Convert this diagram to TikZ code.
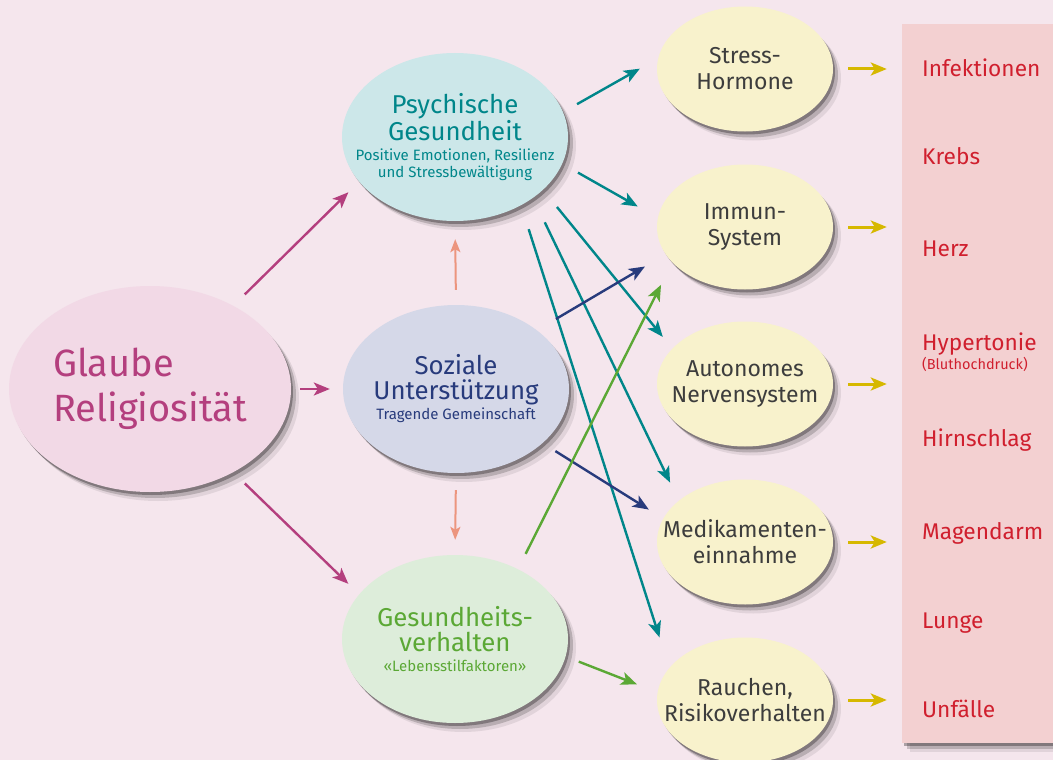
\documentclass[tikz,border=0pt]{standalone}
\usepackage{fontspec}
\setmainfont{Fira Sans}
\usepackage{tikz}
\usetikzlibrary{arrows.meta,shapes.geometric,shadows}
\definecolor{religBack}{HTML}{F5E6ED}
\definecolor{religPanelFill}{HTML}{F3D0D1}
\definecolor{religPink}{HTML}{F2D9E6}
\definecolor{religMagenta}{HTML}{B43F7E}
\definecolor{religAqua}{HTML}{CCE7E9}
\definecolor{religTeal}{HTML}{00868A}
\definecolor{religLilac}{HTML}{D5D8E8}
\definecolor{religNavy}{HTML}{283B7C}
\definecolor{religMint}{HTML}{DDEDDA}
\definecolor{religGreen}{HTML}{5BA835}
\definecolor{religCream}{HTML}{F8F2CC}
\definecolor{religInk}{HTML}{3D3D3D}
\definecolor{religRed}{HTML}{D01F2E}
\definecolor{religSalmon}{HTML}{EC957E}
\definecolor{religGold}{HTML}{D6B800}
\newcommand{\religSub}{\fontsize{15}{17}\selectfont}
\tikzset{
  religShadow/.style={
    drop shadow={shadow xshift=2pt,shadow yshift=-3pt,opacity=.3,fill=black},
    drop shadow={shadow xshift=5pt,shadow yshift=-6pt,opacity=.18,fill=black},
    drop shadow={shadow xshift=8pt,shadow yshift=-9pt,opacity=.08,fill=black}
  },
  religBubble/.style={
    ellipse,
    inner sep=0pt,
    religShadow,
    minimum width=226pt,
    minimum height=168pt
  },
  religBubbleText/.style={
    align=center,
    font=\fontsize{25.8}{25}\selectfont
  },
  religEffect/.style={
    religBubble,
    fill=religCream,
    minimum width=176pt,
    minimum height=125pt
  },
  religEffectText/.style={
    align=center,
    text=religInk,
    font=\fontsize{23}{26}\selectfont
  },
  religLabel/.style={
    anchor=base west,
    inner sep=0pt,
    text=religRed,
    font=\fontsize{22.7}{26}\selectfont
  },
  religArrow/.style={
    -{Stealth[length=16pt,width=13pt,inset=4pt]},
    line width=2.4pt
  },
  religThinArrow/.style={
    -{Stealth[length=13pt,width=10pt,inset=3pt]},
    line width=2pt
  }
}
\begin{document}
\begin{tikzpicture}[x=1pt, y=-1pt]
\useasboundingbox (0,0) rectangle (1053,760);
\clip (0,0) rectangle (1053,760);
\fill[religBack] (0,0) rectangle (1053,760);

% right panel with outcomes
\node[fill=religPanelFill, religShadow, inner sep=0pt,
      minimum width=173pt, minimum height=719pt] (panel) at (988.5,383.5) {};
\node[religLabel] (infekt) at (922,77) {Infektionen};
\node[religLabel] (krebs) at (922,164) {Krebs};
\node[religLabel] (herz) at (922,256) {Herz};
\node[religLabel] (hyper) at (922,350) {Hypertonie};
\node[religLabel, font=\fontsize{14.5}{16}\selectfont] (bluthoch) at (922,369) {(Bluthochdruck)};
\node[religLabel] (hirn) at (922,446) {Hirnschlag};
\node[religLabel] (magen) at (922,539) {Magendarm};
\node[religLabel] (lunge) at (922,628) {Lunge};
\node[religLabel] (unfall) at (922,717) {Unfälle};

% left and middle bubbles
\node[religBubble, fill=religPink, minimum width=282pt, minimum height=206pt] (glaube) at (150,389) {};
\node[align=left, text=religMagenta, font=\fontsize{38}{45}\selectfont] (glaubeText) at (glaube) {Glaube\\Religiosität};

\node[religBubble, fill=religAqua] (psych) at (455,137) {};
\node[religBubbleText, text=religTeal] (psychText) at (psych)
  {Psychische\\Gesundheit\\[-5pt]
   {\religSub Positive Emotionen, Resilienz}\\[-8pt]
   {\religSub und Stressbewältigung}};

\node[religBubble, fill=religLilac] (sozial) at (456,389) {};
\node[religBubbleText, text=religNavy] (sozialText) at (sozial)
  {Soziale\\Unterstützung\\[-5pt]
   {\religSub Tragende Gemeinschaft}};

\node[religBubble, fill=religMint] (gesund) at (455,639) {};
\node[religBubbleText, text=religGreen] (gesundText) at (gesund)
  {Gesundheits-\\verhalten\\[-5pt]
   {\religSub «Lebensstilfaktoren»}};

% mechanisms
\node[religEffect] (stress) at (745,69) {};
\node[religEffectText] (stressText) at (stress) {Stress-\\Hormone};
\node[religEffect] (immun) at (745,227) {};
\node[religEffectText] (immunText) at (immun) {Immun-\\System};
\node[religEffect] (auto) at (745,384) {};
\node[religEffectText] (autoText) at (auto) {Autonomes\\Nervensystem};
\node[religEffect] (medik) at (745,542) {};
\node[religEffectText] (medikText) at (medik) {Medikamenten-\\einnahme};
\node[religEffect] (rauch) at (745,700) {};
\node[religEffectText] (rauchText) at (rauch) {Rauchen,\\Risikoverhalten};

% arrows from faith
\draw[religArrow, religMagenta, shorten <=16pt, shorten >=15pt] (glaube.45) -- (psych.205);
\draw[religArrow, religMagenta, shorten <=9pt, shorten >=13pt] (glaube.east) -- (sozial.west);
\draw[religArrow, religMagenta, shorten <=16pt, shorten >=15pt] (glaube.-45) -- (gesund.155);

% social support feeds the other two
\draw[religThinArrow, religSalmon, shorten <=15pt, shorten >=18pt] (sozial.north) -- (psych.south);
\draw[religThinArrow, religSalmon, shorten <=17pt, shorten >=15pt] (sozial.south) -- (gesund.north);

% psychische gesundheit
\draw[religArrow, religTeal, shorten <=16pt, shorten >=21pt] (psych.13) -- (stress.173);
\draw[religArrow, religTeal, shorten <=18pt, shorten >=23pt] (psych.-14) -- (immun.174);
\draw[religArrow, religTeal, shorten <=22pt, shorten >=15pt] (psych.-31) -- (auto.154);
\draw[religArrow, religTeal, shorten <=27pt, shorten >=20pt] (psych.-38) -- (medik.148);
\draw[religArrow, religTeal, shorten <=25pt, shorten >=32pt] (psych.-46) -- (rauch.157);

% soziale unterstuetzung
\draw[religArrow, religNavy, shorten <=22pt, shorten >=24pt] (sozial.36) -- (immun.199);
\draw[religArrow, religNavy, shorten <=15pt, shorten >=17pt] (sozial.-32) -- (medik.164);

% gesundheitsverhalten
\draw[religArrow, religGreen, shorten <=17pt, shorten >=25pt] (gesund.48) -- (immun.206);
\draw[religArrow, religGreen, shorten <=14pt, shorten >=22pt] (gesund.-9) -- (rauch.175);

% into the outcomes
\foreach \m in {stress,immun,auto,medik,rauch}
  \draw[religArrow, religGold, line width=3pt, shorten <=15pt, shorten >=15pt]
    (\m.east) -- (\m.east -| panel.west);
\end{tikzpicture}
\end{document}
